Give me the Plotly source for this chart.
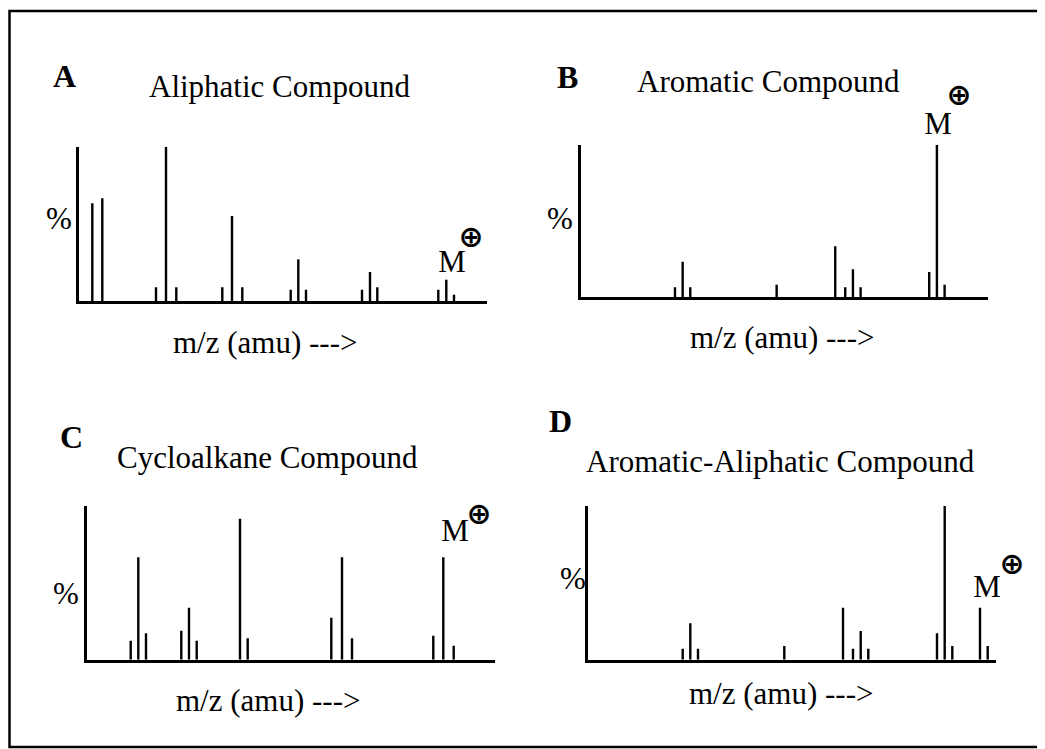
import plotly.graph_objects as go

# ---------------- data (m/z positions, relative intensity %) ----------------
A_mz = [13.0, 23.0, 76.7, 86.7, 97.0, 143.0, 152.7, 163.0, 211.4, 219.0, 226.7,
        282.7, 290.7, 298.0, 359.0, 367.0, 374.7]
A_int = [63.3, 66.6, 8.9, 100.0, 8.9, 8.9, 55.1, 8.9, 7.3, 27.0, 7.3,
         7.3, 18.8, 8.9, 7.3, 13.8, 4.1]

B_mz = [94.3, 102.0, 109.6, 196.0, 254.6, 264.6, 272.3, 280.0, 348.6, 356.3, 364.0]
B_int = [6.6, 23.4, 6.6, 8.3, 33.5, 6.6, 18.4, 6.6, 16.6, 100.0, 8.3]

C_mz = [43.4, 51.0, 58.7, 94.0, 101.7, 109.4, 152.7, 160.4, 244.0, 254.7, 264.7,
        346.0, 356.0, 366.4]
C_int = [12.4, 66.6, 17.2, 18.9, 33.8, 12.4, 91.7, 13.9, 27.3, 66.6, 13.9,
         15.6, 66.6, 9.1]

D_mz = [94.4, 102.0, 109.7, 196.0, 254.7, 264.7, 272.4, 280.0, 348.7, 356.4, 364.0,
        391.7, 399.4]
D_int = [7.2, 23.7, 7.2, 8.9, 33.8, 7.2, 18.7, 7.2, 17.2, 100.0, 8.9, 33.8, 8.9]

letters = ["A", "B", "C", "D"]
titles = ["Aliphatic Compound", "Aromatic Compound", "Cycloalkane Compound",
          "Aromatic-Aliphatic Compound"]
x_label = "m/z (amu) --->"
y_label = "%"
ion_label = "M"
ion_sign = "⊕"
MZ_MAX = 407.7

# ---------------- layout (page pixels in a 1045 x 749 window) ----------------
W, H = 1045, 749
OFF = 8  # default page body margin


def px(x):
    return (x - OFF) / W


def py(y):
    return 1 - (y - OFF) / H


panels = [
    dict(mz=A_mz, inten=A_int, x0=79.3, x1=487.0, base=301.0, top=146.7,
         letter=(64.5, 76), title=(279.5, 86), pct=(59, 218), xlab=(265, 342),
         m=(451.7, 261), sign=(470.5, 236)),
    dict(mz=B_mz, inten=B_int, x0=580.7, x1=988.3, base=297.3, top=145.0,
         letter=(567, 77), title=(768.5, 82), pct=(560, 218), xlab=(782, 338),
         m=(938, 123), sign=(958.5, 94)),
    dict(mz=C_mz, inten=C_int, x0=87.3, x1=495.0, base=659.7, top=506.0,
         letter=(71, 437), title=(267, 457), pct=(66, 593), xlab=(268, 700),
         m=(455, 530), sign=(479, 513)),
    dict(mz=D_mz, inten=D_int, x0=588.3, x1=996.0, base=659.7, top=506.0,
         letter=(560, 421), title=(780, 461), pct=(573, 578), xlab=(781, 693),
         m=(986.7, 586), sign=(1012, 563)),
]

fig = go.Figure()
serif = "Liberation Serif, Times New Roman, serif"
annotations = []

for i, p in enumerate(panels):
    sfx = "" if i == 0 else str(i + 1)
    xs, ys = [], []
    for m, h in zip(p["mz"], p["inten"]):
        xs += [m, m, None]
        ys += [0, h, None]
    fig.add_trace(go.Scatter(
        x=xs, y=ys, mode="lines", line=dict(color="black", width=2.4),
        xaxis="x" + sfx, yaxis="y" + sfx, hoverinfo="skip", showlegend=False))
    fig.layout["xaxis" + sfx] = dict(
        domain=[px(p["x0"]), px(p["x1"])], range=[0, MZ_MAX],
        showline=True, linecolor="black", linewidth=3, showgrid=False,
        zeroline=False, showticklabels=False, ticks="", anchor="y" + sfx,
        fixedrange=True)
    fig.layout["yaxis" + sfx] = dict(
        domain=[py(p["base"]), py(p["top"])], range=[0, 100],
        showline=True, linecolor="black", linewidth=3, showgrid=False,
        zeroline=False, showticklabels=False, ticks="", anchor="x" + sfx,
        fixedrange=True)

    def add(text, pos, size=31, bold=False, family=serif, box=None):
        ann = dict(
            text=("<b>%s</b>" % text) if bold else text,
            x=px(pos[0]), y=py(pos[1]), xref="paper", yref="paper",
            xanchor="center", yanchor="middle", showarrow=False,
            font=dict(family=family, size=size, color="black"))
        if box is not None:
            ann.update(width=box[0], height=box[1], borderpad=0,
                       align="center", valign="middle")
        annotations.append(ann)

    add(letters[i], p["letter"], size=32, bold=True)
    add(titles[i], p["title"])
    add(y_label, p["pct"])
    add(x_label, p["xlab"])
    add(ion_label, p["m"], box=(28, 24))
    add(ion_sign, p["sign"], size=30, bold=True, family="DejaVu Sans",
        box=(22, 22))

fig.update_layout(
    width=W, height=H, margin=dict(l=0, r=0, t=0, b=0),
    paper_bgcolor="white", plot_bgcolor="white",
    annotations=annotations,
    shapes=[dict(type="rect", xref="paper", yref="paper",
                 x0=px(9.5), x1=px(1043), y0=py(747), y1=py(11),
                 line=dict(color="black", width=2.5))],
)

fig.write_html("out.html")
